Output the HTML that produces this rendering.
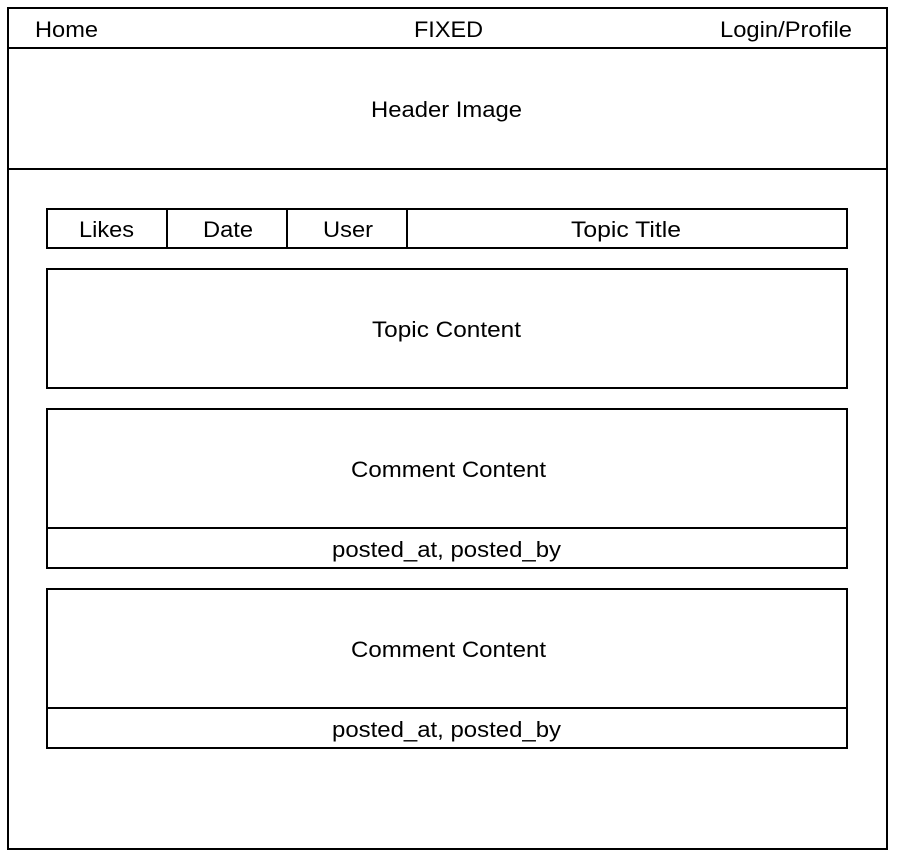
<!DOCTYPE html>
<html><head><style>
body{margin:0;background:#fff;width:898px;height:860px;overflow:hidden}
svg text{font-family:"Liberation Sans",sans-serif;font-size:22px;fill:#000}
</style></head><body>
<svg width="898" height="860" xmlns="http://www.w3.org/2000/svg">
<g fill="none" stroke="#000" stroke-width="2">
<rect x="8" y="8" width="879" height="841"/>
<line x1="8" y1="48" x2="887" y2="48"/>
<line x1="8" y1="169" x2="887" y2="169"/>
<rect x="47" y="209" width="800" height="39"/>
<line x1="167" y1="209" x2="167" y2="248"/>
<line x1="287" y1="209" x2="287" y2="248"/>
<line x1="407" y1="209" x2="407" y2="248"/>
<rect x="47" y="269" width="800" height="119"/>
<rect x="47" y="409" width="800" height="159"/>
<line x1="47" y1="528" x2="847" y2="528"/>
<rect x="47" y="589" width="800" height="159"/>
<line x1="47" y1="708" x2="847" y2="708"/>
</g>
<text x="35" y="37" textLength="63" lengthAdjust="spacingAndGlyphs">Home</text>
<text x="414" y="37" textLength="69" lengthAdjust="spacingAndGlyphs">FIXED</text>
<text x="720" y="37" textLength="132" lengthAdjust="spacingAndGlyphs">Login/Profile</text>
<text x="371" y="117" textLength="151" lengthAdjust="spacingAndGlyphs">Header Image</text>
<text x="79" y="237" textLength="55" lengthAdjust="spacingAndGlyphs">Likes</text>
<text x="203" y="237" textLength="50" lengthAdjust="spacingAndGlyphs">Date</text>
<text x="323" y="237" textLength="50" lengthAdjust="spacingAndGlyphs">User</text>
<text x="571" y="237" textLength="110" lengthAdjust="spacingAndGlyphs">Topic Title</text>
<text x="372" y="337" textLength="149" lengthAdjust="spacingAndGlyphs">Topic Content</text>
<text x="351" y="477" textLength="195" lengthAdjust="spacingAndGlyphs">Comment Content</text>
<text x="332" y="557" textLength="229" lengthAdjust="spacingAndGlyphs">posted_at, posted_by</text>
<text x="351" y="657" textLength="195" lengthAdjust="spacingAndGlyphs">Comment Content</text>
<text x="332" y="737" textLength="229" lengthAdjust="spacingAndGlyphs">posted_at, posted_by</text>
</svg>
</body></html>
